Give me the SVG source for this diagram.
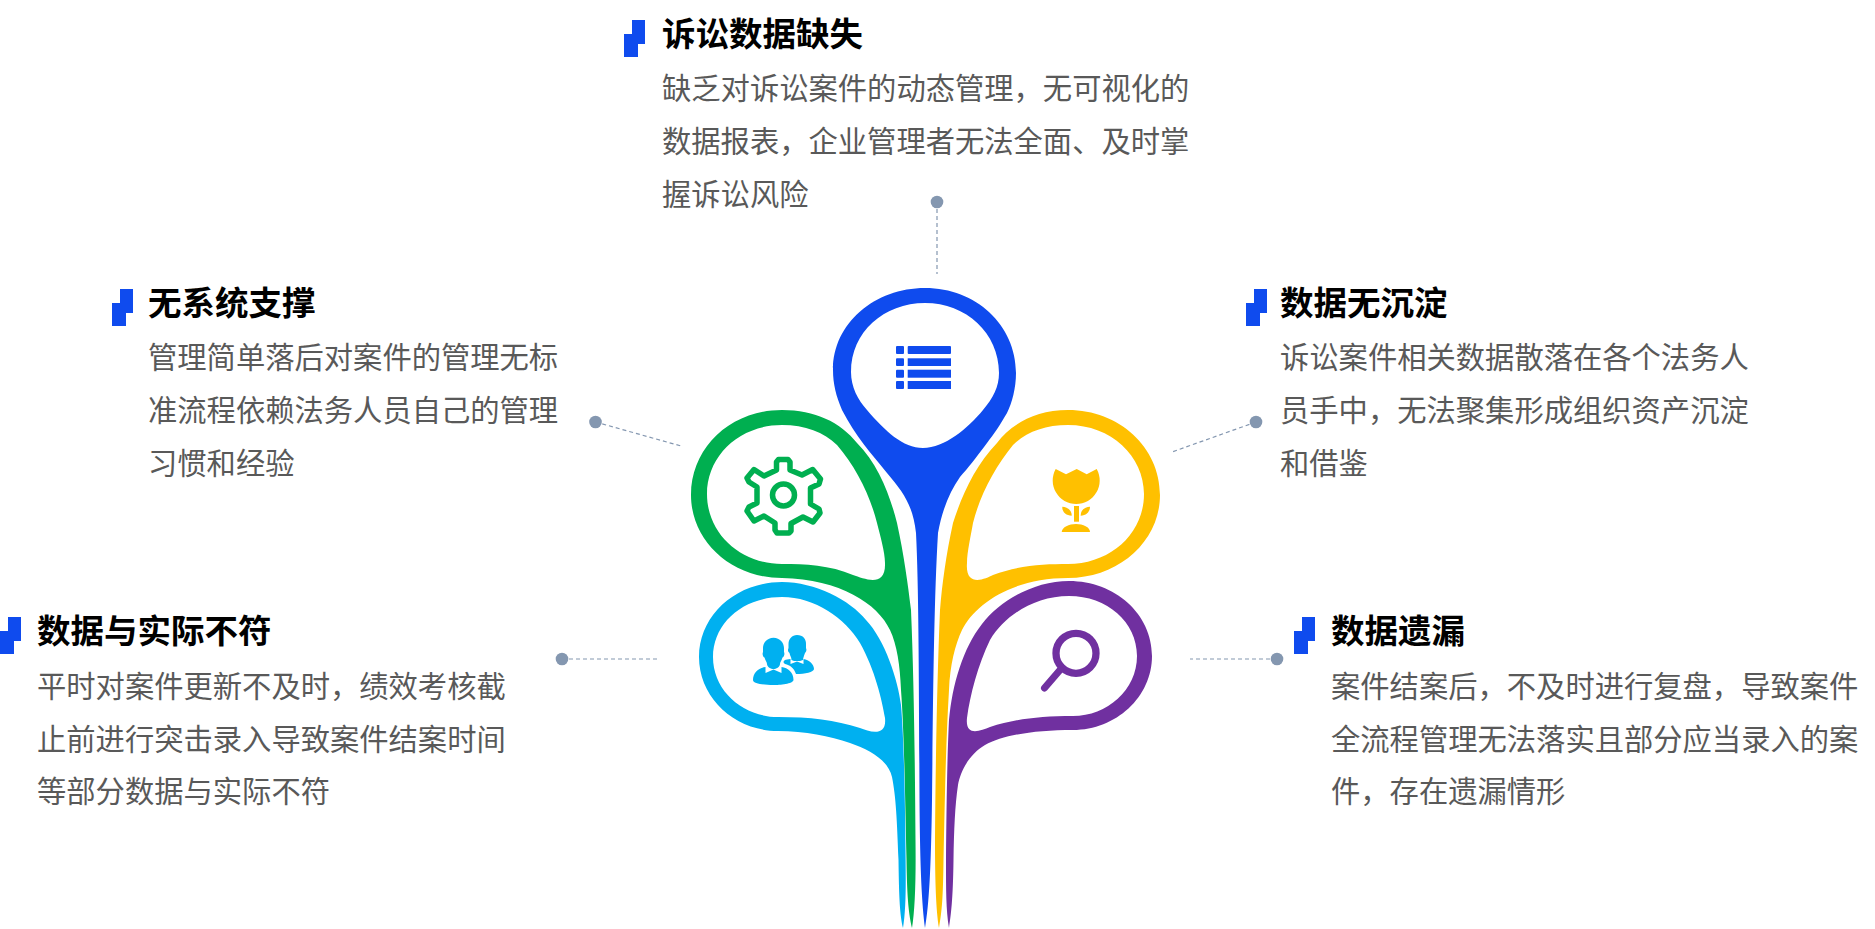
<svg xmlns="http://www.w3.org/2000/svg" width="1875" height="929" viewBox="0 0 1875 929">
<style>
text{font-family:"Noto Sans CJK SC","Microsoft YaHei",sans-serif}
.t{font-size:33.5px;font-weight:700;fill:#000}
.b{font-size:29.3px;fill:#595959}
.m{fill:#0f4bee}
.d{fill:#8497b0}
.l{stroke:#8497b0;stroke-width:1.2;stroke-dasharray:4 3;fill:none}
.p{fill-rule:evenodd}
</style>
<defs>
<polygon id="mk" points="632,20 645,20 645,44 638,44 638,57 624,57 624,34 632,34"/>
</defs>
<g id="connectors">
<line class="l" x1="937" y1="202" x2="937" y2="274"/><circle class="d" cx="937" cy="202" r="6.3"/>
<line class="l" x1="595.5" y1="422" x2="681" y2="446"/><circle class="d" cx="595.5" cy="422" r="6.3"/>
<line class="l" x1="1256" y1="422" x2="1172" y2="452"/><circle class="d" cx="1256" cy="422" r="6.3"/>
<line class="l" x1="562" y1="659" x2="657" y2="659"/><circle class="d" cx="562" cy="659" r="6.3"/>
<line class="l" x1="1277" y1="659" x2="1190" y2="659"/><circle class="d" cx="1277" cy="659" r="6.3"/>
</g>
<g id="petal-blue" fill="#0f4bee">
<path class="p" d="M925 928C922 905 920 870 919.5 800C919 700 919 590 916 533C913 505 903 492 887 473C870 452 856 437 842 410C836 396 833 384 833 370C833 323 875 288 925 288C976 288 1016 325 1016 373C1016 388 1012 403 1007 413C1000 425 994 434 987 443C975 459 968 468 960 477C950 491 942 510 938 533C934 600 933 700 932 800C931 870 929 905 925 928ZM925 303C884 303 851 332 851 372C851 387 858 400 867 410C885 431 903 448 923 448C945 448 968 428 983 410C993 398 999 387 999 373C999 333 966 303 925 303Z"/>
<rect x="896" y="346" width="8" height="8" rx="1"/><rect x="907.7" y="346" width="43.3" height="8" rx="1"/>
<rect x="896" y="358.3" width="8" height="7.7" rx="1"/><rect x="907.7" y="358.3" width="43.3" height="7.7"/>
<rect x="896" y="369.7" width="8" height="8" rx="1"/><rect x="907.7" y="369.7" width="43.3" height="8"/>
<rect x="896" y="381" width="8" height="8" rx="1"/><rect x="907.7" y="381" width="43.3" height="8"/>
</g>
<g id="petal-green" fill="#00af50">
<path class="p" d="M912 928C909 915 907 900 906.5 860C905 790 904 730 901 690C900 665 897 645 890 630C878 604 840 579 782 578C731 578 691 541 691 495C691 447 731 410 782 410C815 410 840 422 857 443C878 464 890 495 897 523C904 555 908 585 911 610C914 680 915 770 915.5 840C916 880 915 910 912 928ZM782 425C739 425 707 456 707 494C707 534 741 564 782 564C805 564 830 565 853 575C865 579 886 588 885 563C885 552 880 535 877 523C870 495 856 467 837 445C824 432 805 425 782 425Z"/>
<path fill="none" stroke="#00af50" stroke-width="5.5" stroke-linejoin="round" d="M776.5 470V462L778.5 459.5H788L790 462V470L802 475L812.7 469.5L820.5 479L819 484L810.5 488V504L819 509L820 513L813 522L803 517L791 523.5V531L789 533H777L775 530V523L764 516L754 521L747 511L749 507L757 503V487L749 482L747 478L754 469.5L764 476Z"/>
<circle cx="783.5" cy="495" r="11" fill="none" stroke="#00af50" stroke-width="5.5"/>
</g>
<g id="petal-yellow" fill="#ffc000">
<path class="p" d="M939 928C942 910 943 900 943.5 860C945 790 946 740 949 690C950 665 955 645 962 630C975 604 1012 578 1068 578C1119 578 1160 541 1160 495C1160 447 1119 410 1068 410C1035 410 1010 425 997 443C975 466 962 495 953 523C946 555 942 585 940 610C937 680 935.5 770 935 840C935 880 936 910 939 928ZM1068 425C1111 425 1144 456 1144 494C1144 534 1110 564 1068 564C1045 564 1020 565 993 575C985 579 965 588 967 563C967 552 971 535 973 523C980 495 995 467 1013 445C1026 432 1045 425 1068 425Z"/>
<path d="M1055.7 469L1066 474.3L1076.7 469L1086.7 474.3L1096.7 469A23.5 23.5 0 1 1 1055.7 469Z"/>
<rect x="1074" y="506" width="5" height="15.7"/>
<path d="M1062.3 506.7C1068 507 1072 511 1071.7 515.7C1066 515.5 1062 512 1062.3 506.7Z"/>
<path d="M1090 506.7C1084 507 1080.5 511 1080.7 515.7C1086 515.5 1090 512 1090 506.7Z"/>
<path d="M1061.7 532C1062 527 1069 524 1076 524C1083 524 1090 527 1090 532Z"/>
</g>
<g id="petal-cyan" fill="#00b0f0">
<path class="p" d="M903 928C900 915 899 900 898.5 860C897 820 896 797 892 777C888 760 870 750 850 743C830 736 805 731 778 731C735 731 699 698 699 657C699 615 736 582 782 582C815 582 850 600 866 620C885 640 898 680 901 705C904 740 905 800 905.5 850C906 885 906 910 903 928ZM782 597C743 597 713 623 713 657C713 691 743 717 778 717C810 717 835 720 860 728C870 732 887 737 885 718C882 700 875 670 860 643C845 618 815 597 782 597Z"/>
<path d="M773.5 637.7C780 637.7 784 643 784 648V652C785 654 784 657 782.5 657.5C782 660 780 662 780 664C780 667 776 669 773.5 669C771 669 767 667 767 664C767 662 765 660 764.5 657.5C763 657 762 654 763 652V648C763 643 767 637.7 773.5 637.7Z"/>
<path d="M765.5 667V673L773.5 669.5L781.5 673V667C788 668 793.5 672 793.5 680C793 684 780 685 773 685C765 685 753 684 753 680C753 673 758 668 765.5 667Z"/>
<path d="M797 635C803 635 806.5 639 806 645V648C807 650 806 652 805 653C804 656 803 658 803 660C801 661 799 661 797 661C795 661 793 661 791.5 660C791.5 657 790 656 789.5 653C788 652 787.5 650 788.5 648V644C788.5 639 792 635 797 635Z"/>
<path d="M790.5 659V664L797 661.5L803.5 664V659C809 660 814 664 814 669C814 672 805 674 796 674C794 668 790 665 785 664C783 663 783 661 785 660C786 660 788 659 790.5 659Z"/>
</g>
<g id="petal-purple" fill="#7030a0">
<path class="p" d="M949 928C951 915 953 900 953.5 860C954 830 955 805 958 785C960 773 968 755 985 745C1003 735 1035 730 1073 730C1116 730 1152 697 1152 656C1152 614 1115 581 1069 581C1035 581 1000 600 982 624C963 648 952 685 949 720C947 760 946.5 810 946 860C946 890 946 910 949 928ZM1069 596C1107 596 1137 622 1137 656C1137 690 1107 716 1073 716C1040 716 1015 719 990 727C980 731 965 737 967 718C970 695 978 665 990 640C1005 615 1035 596 1069 596Z"/>
<circle cx="1076" cy="653.3" r="20" fill="none" stroke="#7030a0" stroke-width="7.3"/>
<line x1="1060" y1="670" x2="1044.5" y2="688" stroke="#7030a0" stroke-width="7" stroke-linecap="round"/>
</g>
<g id="node-top">
<use href="#mk" class="m"/>
<text class="t" x="662" y="46">诉讼数据缺失</text>
<text class="b" x="662" y="99">缺乏对诉讼案件的动态管理，无可视化的</text>
<text class="b" x="662" y="152">数据报表，企业管理者无法全面、及时掌</text>
<text class="b" x="662" y="205">握诉讼风险</text>
</g>
<g id="node-left">
<use href="#mk" class="m" transform="translate(-512 269)"/>
<text class="t" x="148" y="315">无系统支撑</text>
<text class="b" x="148" y="368">管理简单落后对案件的管理无标</text>
<text class="b" x="148" y="421">准流程依赖法务人员自己的管理</text>
<text class="b" x="148" y="474">习惯和经验</text>
</g>
<g id="node-right">
<use href="#mk" class="m" transform="translate(622 269)"/>
<text class="t" x="1280" y="315">数据无沉淀</text>
<text class="b" x="1280" y="368">诉讼案件相关数据散落在各个法务人</text>
<text class="b" x="1280" y="421">员手中，无法聚集形成组织资产沉淀</text>
<text class="b" x="1280" y="474">和借鉴</text>
</g>
<g id="node-lower-left">
<use href="#mk" class="m" transform="translate(-624 597)"/>
<text class="t" x="37" y="643">数据与实际不符</text>
<text class="b" x="37" y="697">平时对案件更新不及时，绩效考核截</text>
<text class="b" x="37" y="750">止前进行突击录入导致案件结案时间</text>
<text class="b" x="37" y="802">等部分数据与实际不符</text>
</g>
<g id="node-lower-right">
<use href="#mk" class="m" transform="translate(670 597)"/>
<text class="t" x="1331" y="643">数据遗漏</text>
<text class="b" x="1331" y="697">案件结案后，不及时进行复盘，导致案件</text>
<text class="b" x="1331" y="750">全流程管理无法落实且部分应当录入的案</text>
<text class="b" x="1331" y="802">件，存在遗漏情形</text>
</g>
</svg>
